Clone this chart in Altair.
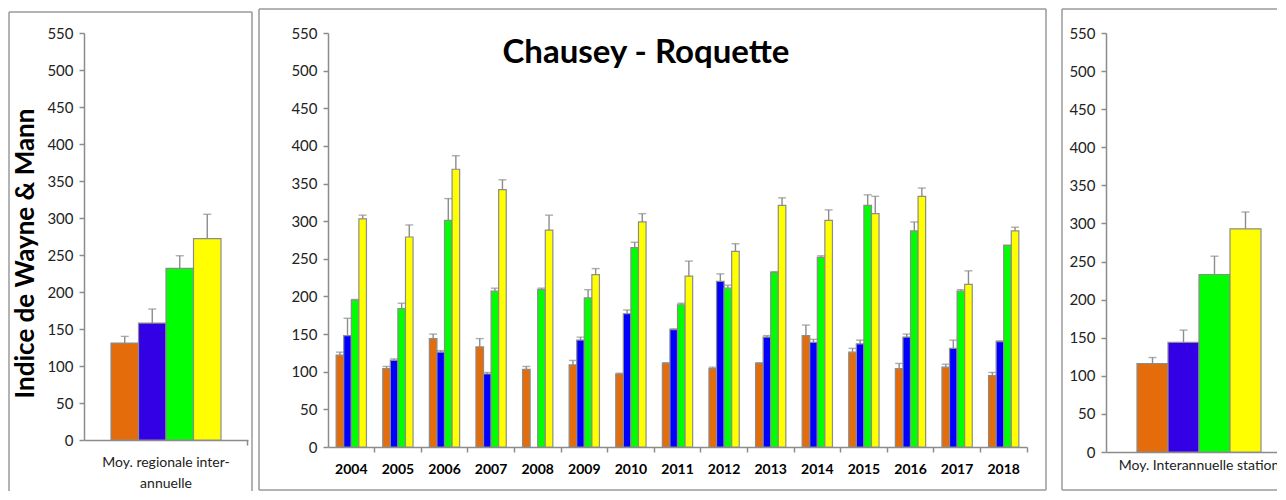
import altair as alt
import pandas as pd

# ---------------- data ----------------
SERIES = ["Série 1", "Série 2", "Série 3", "Série 4"]

years = [str(y) for y in range(2004, 2019)]
orange = [122, 104, 144, 133, 103, 109, 97, 111, 104, 111, 148, 126, 104, 106, 95]
orange_err = [4, 3, 6, 11, 4, 6, 1, 1, 2, 1, 14, 5, 7, 4, 4]
blue = [148, 115, 126, 97, None, 142, 177, 156, 220, 146, 139, 137, 146, 131, 140]
blue_err = [23, 2, 2, 2, None, 4, 5, 1, 10, 2, 4, 5, 4, 11, 1]
green = [195, 184, 301, 207, 209, 198, 265, 189, 211, 232, 252, 321, 287, 207, 268]
green_err = [1, 7, 29, 4, 2, 11, 7, 2, 4, 1, 2, 14, 12, 2, 0]
yellow = [303, 279, 369, 342, 288, 229, 299, 227, 260, 321, 301, 310, 333, 216, 287]
yellow_err = [5, 16, 18, 13, 20, 8, 11, 20, 10, 10, 14, 23, 11, 18, 5]

regional_label = ["Moy. regionale inter-\nannuelle"]
regional_mean = [131, 158, 232, 272]
regional_err = [9, 19, 17, 33]

station_label = ["Moy. Interannuelle station"]
station_mean = [116, 144, 233, 293]
station_err = [8, 16, 24, 22]

panel_title = "Chausey - Roquette"
y_title = "Indice de Wayne & Mann"

y_ticks = list(range(0, 551, 50))
pal_station = ["#E46C0A", "#0000FF", "#00FF00", "#FFFF00"]
pal_mean = ["#E46C0A", "#3300E6", "#00FF00", "#FFFF00"]

# ---------------- tables ----------------
rows = []
for i, yr in enumerate(years):
    for s, vals, errs in zip(SERIES, [orange, blue, green, yellow],
                             [orange_err, blue_err, green_err, yellow_err]):
        v, e = vals[i], errs[i]
        if v is None:
            continue
        rows.append({"cat": yr, "series": s, "value": v, "upper": v + e})
df_mid = pd.DataFrame(rows)

df_left = pd.DataFrame({"cat": regional_label * 4, "series": SERIES,
                        "value": regional_mean,
                        "upper": [m + e for m, e in zip(regional_mean, regional_err)]})
df_right = pd.DataFrame({"cat": station_label * 4, "series": SERIES,
                         "value": station_mean,
                         "upper": [m + e for m, e in zip(station_mean, station_err)]})

GRAY = "#8c8c8c"
FONT = "Lato"
one = pd.DataFrame({"k": [0]})
YSCALE = alt.Scale(domain=[0, 550], nice=False, zero=True)


def yaxis(title=None, **kw):
    args = dict(values=y_ticks, grid=False, domainColor=GRAY, domainWidth=1.5,
                tickColor=GRAY, tickWidth=1.5, tickSize=5, labelFont=FONT,
                labelFontSize=15, labelColor="#222222", labelPadding=6,
                labelOverlap=False, labelFlush=False)
    args.update(kw)
    args["title"] = title
    return alt.Axis(**args)


def frame(x1, x2, y1, y2, sides, color="#9a9a9a"):
    layers = []
    st = dict(color=color, strokeWidth=1.5)
    if "top" in sides:
        layers.append(alt.Chart(one).mark_rule(**st).encode(
            x=alt.value(x1), x2=alt.value(x2), y=alt.value(y1)))
    if "bottom" in sides:
        layers.append(alt.Chart(one).mark_rule(**st).encode(
            x=alt.value(x1), x2=alt.value(x2), y=alt.value(y2)))
    if "left" in sides:
        layers.append(alt.Chart(one).mark_rule(**st).encode(
            x=alt.value(x1), y=alt.value(y1), y2=alt.value(y2)))
    if "right" in sides:
        layers.append(alt.Chart(one).mark_rule(**st).encode(
            x=alt.value(x2), y=alt.value(y1), y2=alt.value(y2)))
    return layers


def panel(df, xscale, xaxis, yax, palette, width, height, extra_layers):
    base = alt.Chart(df).encode(
        x=alt.X("cat:N", scale=xscale, axis=xaxis, sort=None),
        xOffset=alt.XOffset("series:N", sort=SERIES,
                            scale=alt.Scale(domain=SERIES, paddingInner=0, paddingOuter=0)),
    )
    bars = base.mark_bar(stroke=GRAY, strokeWidth=1.2).encode(
        y=alt.Y("value:Q", scale=YSCALE, axis=yax),
        color=alt.Color("series:N", scale=alt.Scale(domain=SERIES, range=palette), legend=None),
    )
    err = base.mark_rule(color=GRAY, strokeWidth=1.4).encode(
        y=alt.Y("value:Q", scale=YSCALE, axis=yax), y2="upper:Q")
    caps = base.mark_tick(orient="horizontal", size=8, thickness=1.4, color=GRAY).encode(
        y=alt.Y("upper:Q", scale=YSCALE, axis=yax))
    return alt.layer(*extra_layers, bars, err, caps).properties(width=width, height=height)


# ----- left panel -----
left = panel(
    df_left,
    alt.Scale(paddingInner=0, paddingOuter=0.2455),
    alt.Axis(title=None, labelAngle=0, labelFont=FONT, labelFontSize=14, labelColor="#222222",
             labelExpr="split(datum.label, '\\n')", labelLineHeight=21, labelPadding=10,
             domainColor=GRAY, domainWidth=1.5, tickColor=GRAY, tickWidth=1.5, tickSize=5,
             bandPosition=1.245),
    yaxis(title=y_title, titleFont=FONT, titleFontSize=26,
          titleFontWeight="bold", titleColor="black", titlePadding=8, titleY=220),
    pal_mean, 164, 407,
    frame(-75, 168, -21, 480, ["top", "left", "right"]),
)

# ----- middle panel -----
title_txt = alt.Chart(pd.DataFrame({"t": [panel_title]})).mark_text(
    font=FONT, fontSize=33, fontWeight="bold", color="black", baseline="alphabetic",
    align="center").encode(text="t:N", x=alt.value(318), y=alt.value(30))
top_guard = frame(0, 727, -40, -40, ["top"], color="white")
mid = panel(
    df_mid,
    alt.Scale(paddingInner=0.35, paddingOuter=0.175),
    alt.Axis(title=None, labelAngle=0, labelFont=FONT, labelFontSize=14, labelFontWeight="bold",
             labelColor="black", labelPadding=10, domainColor=GRAY, domainWidth=1.5,
             tickColor=GRAY, tickWidth=1.5, tickSize=5, bandPosition=1.27),
    yaxis(),
    pal_station, 699, 414,
    top_guard + frame(-69, 718, -24, 457, ["top", "bottom", "left", "right"]) + [title_txt],
)

# ----- right panel -----
right = panel(
    df_right,
    alt.Scale(paddingInner=0, paddingOuter=0.2016, align=0.62),
    alt.Axis(title=None, labelAngle=0, labelFont=FONT, labelFontSize=14, labelColor="#222222",
             labelPadding=1, domainColor=GRAY, domainWidth=1.5, tickColor=GRAY, tickWidth=1.5,
             tickSize=5, bandPosition=1.3),
    yaxis(),
    pal_mean, 174, 419,
    frame(-44, 200, -24, 457, ["top", "bottom", "left"]),
)

chart = alt.hconcat(left, mid, right, spacing=5).resolve_scale(
    xOffset="independent", color="independent", x="independent", y="independent"
).configure_view(stroke=None).properties(
    padding={"left": 0, "top": -16, "right": -30, "bottom": -23}, background="white")

chart.save("out.html", embed_options={"renderer": "svg", "actions": False})
